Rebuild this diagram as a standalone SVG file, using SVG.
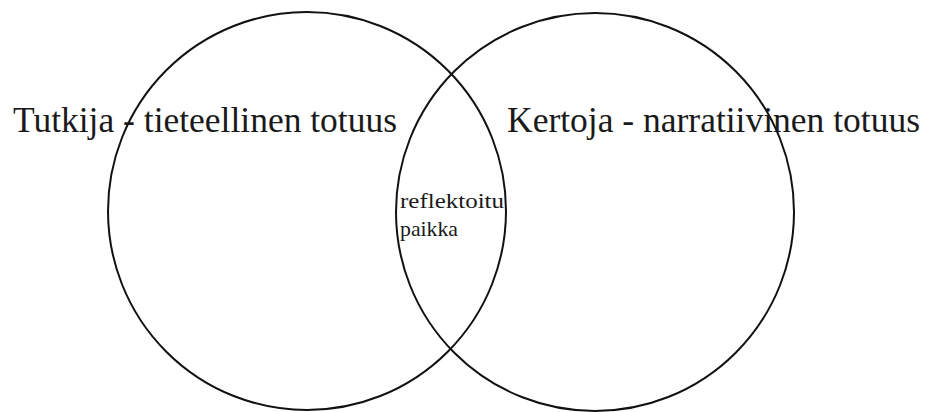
<svg xmlns="http://www.w3.org/2000/svg" width="931" height="412" viewBox="0 0 931 412">
<style>
.c{fill:none;stroke:#111;stroke-width:2}
text{font-family:'Liberation Serif','DejaVu Serif','Times New Roman',serif;fill:#1a1a1a}
</style>
<rect width="931" height="412" fill="#fff"/>
<g id="left">
<circle class="c" cx="307" cy="211" r="199"/>
<text font-family="Liberation Serif, DejaVu Serif, serif" x="13" y="132" font-size="36" textLength="384" lengthAdjust="spacingAndGlyphs">Tutkija - tieteellinen totuus</text>
</g>
<g id="right">
<circle class="c" cx="595" cy="212" r="199"/>
<text font-family="Liberation Serif, DejaVu Serif, serif" x="507" y="132" font-size="36" textLength="413" lengthAdjust="spacingAndGlyphs">Kertoja - narratiivinen totuus</text>
</g>
<g id="overlap">
<text font-family="Liberation Serif, DejaVu Serif, serif" x="400" y="208" font-size="22" textLength="104" lengthAdjust="spacingAndGlyphs">reflektoitu</text>
<text font-family="Liberation Serif, DejaVu Serif, serif" x="400" y="236" font-size="22" textLength="58" lengthAdjust="spacingAndGlyphs">paikka</text>
</g>
<g id="connectors"></g>
</svg>
